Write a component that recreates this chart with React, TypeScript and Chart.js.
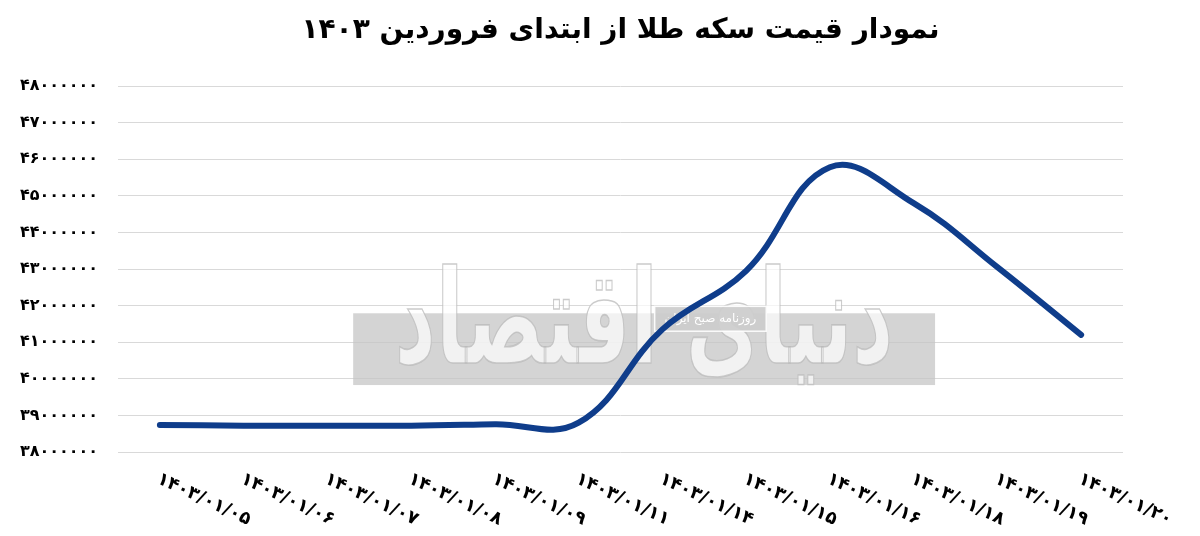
import React, { useEffect, useRef } from 'react';
import { Chart, registerables } from 'chart.js';

Chart.register(...registerables);

const titleText = 'نمودار قیمت سکه طلا از ابتدای فروردین ۱۴۰۳';
const categories = [
  '۱۴۰۳/۰۱/۰۵',
  '۱۴۰۳/۰۱/۰۶',
  '۱۴۰۳/۰۱/۰۷',
  '۱۴۰۳/۰۱/۰۸',
  '۱۴۰۳/۰۱/۰۹',
  '۱۴۰۳/۰۱/۱۱',
  '۱۴۰۳/۰۱/۱۴',
  '۱۴۰۳/۰۱/۱۵',
  '۱۴۰۳/۰۱/۱۶',
  '۱۴۰۳/۰۱/۱۸',
  '۱۴۰۳/۰۱/۱۹',
  '۱۴۰۳/۰۱/۲۰',
];
const coinPrice = [
  38740000, 38720000, 38720000, 38720000, 38760000, 38800000,
  41350000, 42950000, 45780000, 44800000, 43050000, 41200000,
];
const yMin = 38000000;
const yMax = 48000000;
const yStep = 1000000;

const FA_DIGITS = '۰۱۲۳۴۵۶۷۸۹';
const toFa = (v: number | string) => String(v).replace(/\d/g, (d) => FA_DIGITS[+d]);

const FONT = "'DejaVu Sans', sans-serif";

const titlePlugin = {
  id: 'centeredTitle',
  afterDraw(chart: any) {
    const { ctx, chartArea } = chart;
    ctx.save();
    ctx.fillStyle = '#000000';
    ctx.font = `bold 28px ${FONT}`;
    ctx.textAlign = 'center';
    ctx.textBaseline = 'middle';
    ctx.fillText(titleText, (chartArea.left + chartArea.right) / 2, 31);
    ctx.restore();
  },
};

const watermarkPlugin = {
  id: 'watermark',
  beforeDatasetsDraw(chart: any) {
    const { ctx, chartArea } = chart;
    const w = chartArea.right - chartArea.left;
    const h = chartArea.bottom - chartArea.top;
    const x0 = chartArea.left + 0.234 * w;
    const x1 = chartArea.left + 0.813 * w;
    const y0 = chartArea.top + 0.621 * h;
    const y1 = chartArea.top + 0.817 * h;
    ctx.save();
    ctx.fillStyle = 'rgba(195,195,195,0.72)';
    ctx.fillRect(x0, y0, x1 - x0, y1 - y0);
    // calligraphic brand text
    const cx = (x0 + x1) / 2;
    const cy = y0 + 0.22 * (y1 - y0);
    ctx.translate(cx, cy);
    ctx.scale(0.68, 1.1);
    ctx.font = `bold 118px ${FONT}`;
    ctx.textAlign = 'center';
    ctx.textBaseline = 'middle';
    ctx.fillStyle = 'rgba(255,255,255,0.7)';
    ctx.strokeStyle = 'rgba(185,185,185,0.75)';
    ctx.lineWidth = 1.5;
    ctx.fillText('دنیای اقتصاد', 0, 0);
    ctx.strokeText('دنیای اقتصاد', 0, 0);
    ctx.restore();
    // small box
    ctx.save();
    const bx0 = chartArea.left + 0.534 * w;
    const bx1 = chartArea.left + 0.645 * w;
    const by0 = chartArea.top + 0.602 * h;
    const by1 = chartArea.top + 0.67 * h;
    ctx.fillStyle = 'rgba(205,205,205,0.95)';
    ctx.fillRect(bx0, by0, bx1 - bx0, by1 - by0);
    ctx.strokeStyle = 'rgba(255,255,255,0.9)';
    ctx.lineWidth = 1.5;
    ctx.strokeRect(bx0, by0, bx1 - bx0, by1 - by0);
    ctx.fillStyle = '#ffffff';
    ctx.font = `12px ${FONT}`;
    ctx.textAlign = 'center';
    ctx.textBaseline = 'middle';
    ctx.fillText('روزنامه صبح ایران', (bx0 + bx1) / 2, (by0 + by1) / 2);
    ctx.restore();
  },
};

const rotatedXLabelsPlugin = {
  id: 'rotatedXLabels',
  afterDraw(chart: any) {
    const { ctx, chartArea, scales } = chart;
    const xs = scales.x;
    const labels: string[] = chart.data.labels;
    ctx.save();
    ctx.fillStyle = '#000000';
    ctx.font = `bold 18px ${FONT}`;
    ctx.textAlign = 'left';
    ctx.textBaseline = 'top';
    labels.forEach((lab, i) => {
      const x = xs.getPixelForValue(i);
      ctx.save();
      ctx.translate(x + 2, chartArea.bottom + 18);
      ctx.rotate((25 * Math.PI) / 180);
      ctx.fillText(lab, 0, 0);
      ctx.restore();
    });
    ctx.restore();
  },
};

export default function App() {
  const ref = useRef<HTMLCanvasElement | null>(null);

  useEffect(() => {
    if (!ref.current) return;
    const chart = new Chart(ref.current, {
      type: 'line',
      data: {
        labels: categories,
        datasets: [
          {
            label: 'قیمت سکه',
            data: coinPrice,
            borderColor: '#0f3d8b',
            backgroundColor: '#0f3d8b',
            borderWidth: 6,
            borderCapStyle: 'round',
            borderJoinStyle: 'round',
            pointRadius: 0,
            pointHoverRadius: 0,
            tension: 0.4,
            fill: false,
          },
        ],
      },
      options: {
        responsive: false,
        animation: false,
        devicePixelRatio: 1,
        layout: { padding: { left: 0, right: 77, top: 86, bottom: 0 } },
        plugins: {
          legend: { display: false },
          tooltip: { enabled: false },
          title: { display: false },
        },
        scales: {
          x: {
            offset: true,
            grid: { display: false },
            border: { display: false },
            ticks: { display: false },
            afterFit(scale: any) {
              scale.height = 84;
            },
          },
          y: {
            min: yMin,
            max: yMax,
            grid: { color: '#d9d9d9', lineWidth: 1, drawTicks: false },
            border: { display: false },
            ticks: {
              stepSize: yStep,
              padding: 20,
              color: '#000000',
              font: { family: FONT, size: 16, weight: 'bold' },
              callback: (v: any) => toFa(v),
            },
            afterFit(scale: any) {
              scale.width = 118;
            },
          },
        },
      },
      plugins: [watermarkPlugin, rotatedXLabelsPlugin, titlePlugin],
    });
    return () => chart.destroy();
  }, []);

  return (
    <div style={{ position: 'fixed', left: 0, top: 0, width: 1200, height: 536, background: '#ffffff' }}>
      <canvas ref={ref} width={1200} height={536} style={{ width: 1200, height: 536 }} />
    </div>
  );
}
